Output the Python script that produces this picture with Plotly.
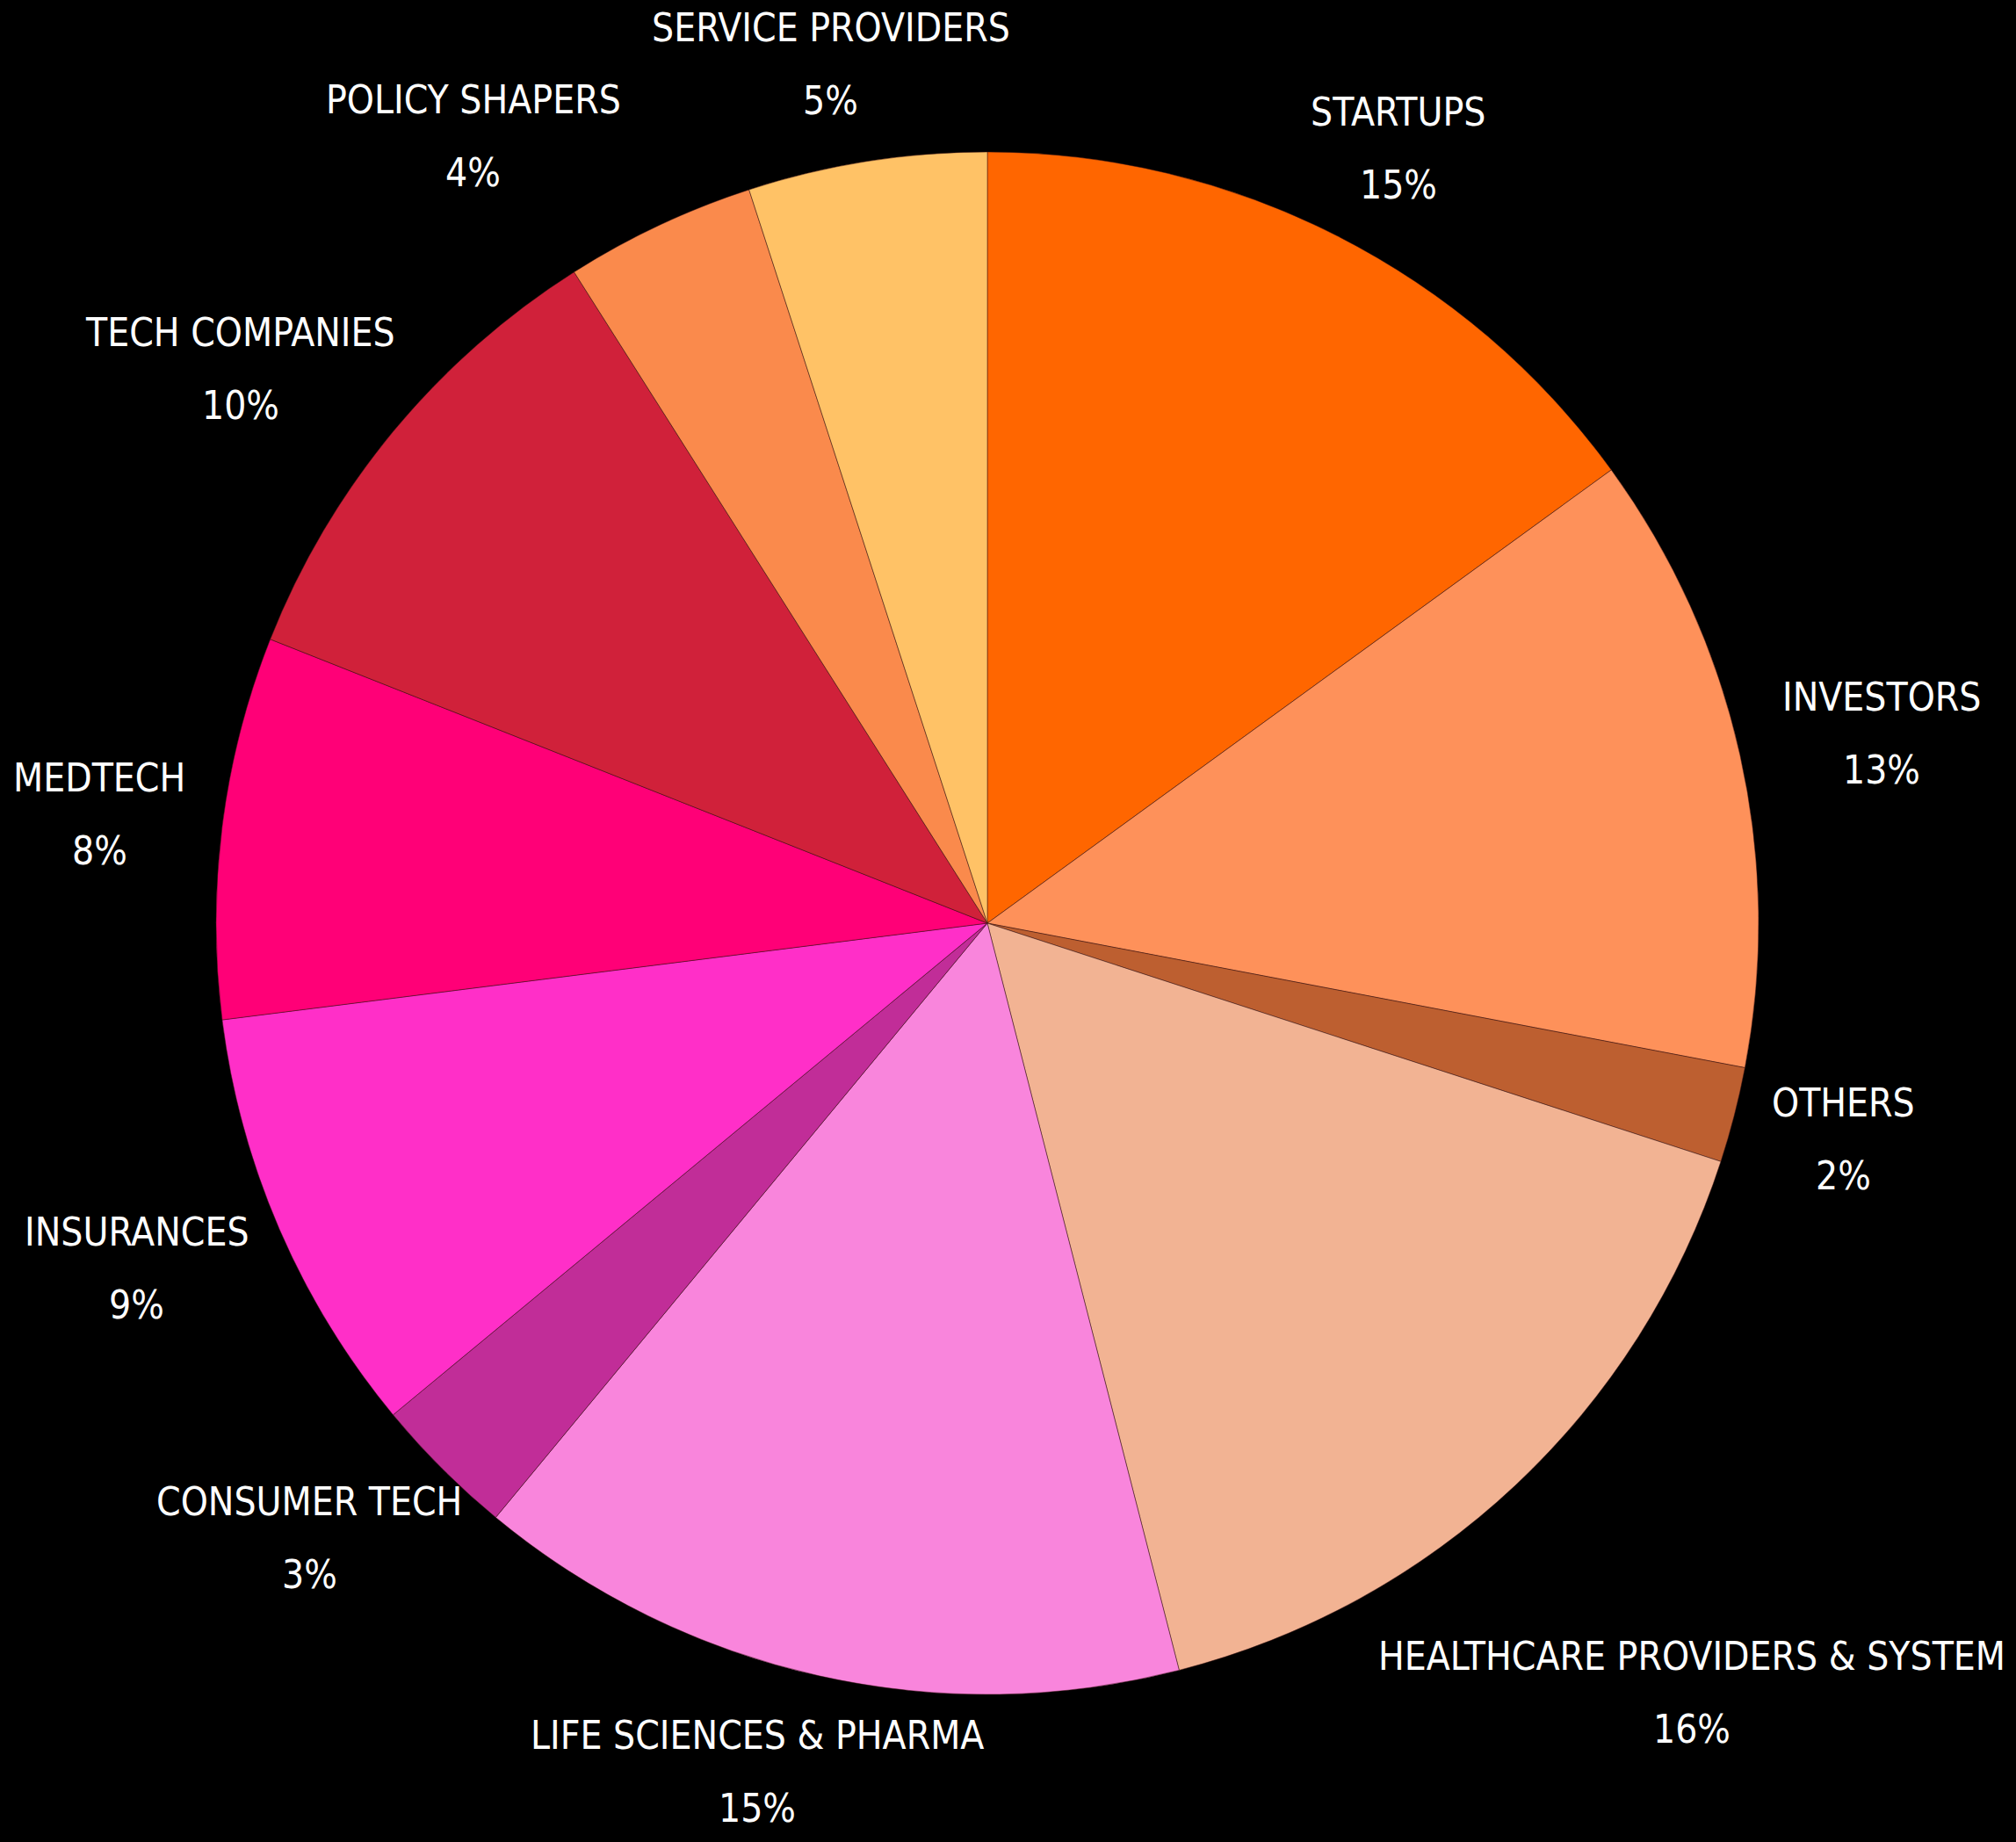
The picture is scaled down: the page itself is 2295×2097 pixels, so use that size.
import math
import plotly.graph_objects as go

labels = ["STARTUPS", "INVESTORS", "OTHERS", "HEALTHCARE PROVIDERS & SYSTEM",
          "LIFE SCIENCES & PHARMA", "CONSUMER TECH", "INSURANCES", "MEDTECH",
          "TECH COMPANIES", "POLICY SHAPERS", "SERVICE PROVIDERS"]
values = [15, 13, 2, 16, 15, 3, 9, 8, 10, 4, 5]
colors = ["#FF6600", "#FE915A", "#BD5F30", "#F2B393", "#F985DC", "#C12D98",
          "#FF2FC8", "#FF0077", "#D0213A", "#FA8A4C", "#FFC266"]

W, H = 2295, 2097
cx, cy, r = 1124, 1051, 878
FONT = "DejaVu Sans Condensed, DejaVu Sans, sans-serif"
FS = 44
GAP = 50          # distance between pie edge and label box
LINE = 83         # distance between the two text lines
HH = 62           # half height of a label box
EDGE = 12         # keep labels inside the canvas

fig = go.Figure(go.Pie(
    labels=labels,
    values=values,
    sort=False,
    direction="clockwise",
    rotation=0,
    marker=dict(colors=colors, line=dict(color="rgba(60,20,20,0.5)", width=1)),
    textinfo="none",
    hoverinfo="label+percent",
    showlegend=False,
    domain=dict(x=[(cx - r) / W, (cx + r) / W],
                y=[(H - cy - r) / H, (H - cy + r) / H]),
))

# label placement derived from the slice mid-angles
total = sum(values)
boxes = []
cum = 0
for lab, v in zip(labels, values):
    th = 2 * math.pi * (cum + v / 2) / total
    cum += v
    s, c = math.sin(th), math.cos(th)
    hw = 0.55 * FS * len(lab) / 2 + 6
    x = cx + (r + GAP) * s + hw * s
    y = cy - (r + GAP) * c - HH * c
    # keep inside canvas horizontally; then push away vertically from the pie
    if x + hw > W - EDGE or x - hw < EDGE:
        x = min(max(x, EDGE + hw), W - EDGE - hw)
        nx = max(abs(x - cx) - hw, 0)
        need = math.sqrt(max((r + GAP) ** 2 - nx ** 2, 0))
        if y > cy:
            y = max(y, cy + need + HH)
        else:
            y = min(y, cy - need - HH)
    boxes.append([x, y, hw, lab, v])

# simple overlap resolution: push the smaller label sideways
for _ in range(5):
    for i in range(len(boxes)):
        for j in range(len(boxes)):
            if i == j:
                continue
            a, b = boxes[i], boxes[j]
            ox = (a[2] + b[2]) - abs(a[0] - b[0])
            oy = 2 * HH - abs(a[1] - b[1])
            if ox > 0 and oy > 0 and a[4] < b[4]:
                a[0] += -(ox + 20) if a[0] < b[0] else (ox + 20)

for x, y, hw, lab, v in boxes:
    for txt, yy in ((lab, y - LINE / 2), (f"{v}%", y + LINE / 2)):
        fig.add_annotation(
            x=x / W, y=1 - yy / H, xref="paper", yref="paper",
            text=txt, showarrow=False, xanchor="center", yanchor="middle",
            font=dict(family=FONT, size=FS, color="#FFFFFF"),
        )

fig.update_layout(
    width=W, height=H,
    paper_bgcolor="#000000",
    plot_bgcolor="#000000",
    margin=dict(l=0, r=0, t=0, b=0),
    showlegend=False,
)

fig.write_html("out.html",
               config={"displayModeBar": False},
               post_script="document.body.style.margin='0';"
                           "document.body.style.background='#000';")
